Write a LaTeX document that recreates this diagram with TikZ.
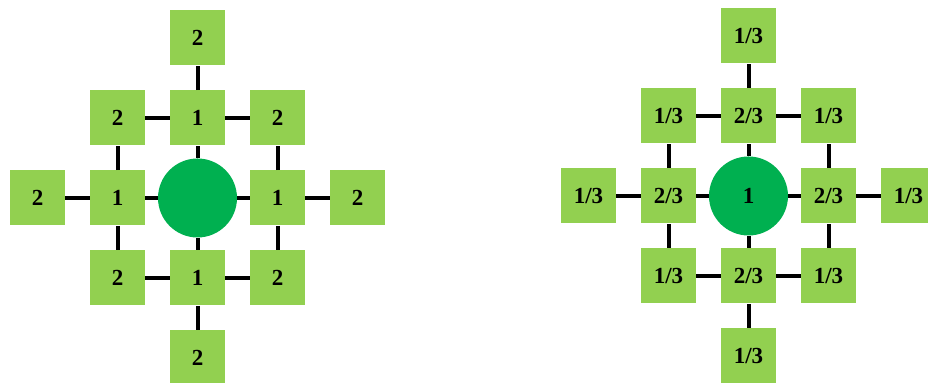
\documentclass[tikz,border=0pt]{standalone}
\usepackage{fontspec}
\setmainfont{Liberation Serif}
\usetikzlibrary{positioning}

\definecolor{cellgreen}{HTML}{92D050}
\definecolor{hubgreen}{HTML}{00B050}

\begin{document}
\begin{tikzpicture}[node distance=40pt,on grid,
	cell/.style={fill=cellgreen,minimum size=27.5pt,inner sep=0pt,font=\bfseries\fontsize{11.5}{13}\selectfont},
	hub/.style={circle,fill=hubgreen,minimum size=39.5pt,inner sep=0pt,font=\bfseries\fontsize{11.5}{13}\selectfont},
	link/.style={line width=2pt}]
					\useasboundingbox (0,0) rectangle (464pt,191.5pt);
					% left graph
					\node[hub] (a) at (98.75pt,92.5pt) {};
					\node[cell] (a_n) [above=of a] {1};
					\node[cell] (a_s) [below=of a] {1};
					\node[cell] (a_w) [left=of a] {1};
					\node[cell] (a_e) [right=of a] {1};
					\node[cell] (a_nn) [above=of a_n] {2};
					\node[cell] (a_nw) [left=of a_n] {2};
					\node[cell] (a_ne) [right=of a_n] {2};
					\node[cell] (a_ss) [below=of a_s] {2};
					\node[cell] (a_sw) [left=of a_s] {2};
					\node[cell] (a_se) [right=of a_s] {2};
					\node[cell] (a_ww) [left=of a_w] {2};
					\node[cell] (a_ee) [right=of a_e] {2};
					% right graph
					\node[hub] (b) at (374.25pt,93.5pt) {1};
					\node[cell] (b_n) [above=of b] {2/3};
					\node[cell] (b_s) [below=of b] {2/3};
					\node[cell] (b_w) [left=of b] {2/3};
					\node[cell] (b_e) [right=of b] {2/3};
					\node[cell] (b_nn) [above=of b_n] {1/3};
					\node[cell] (b_nw) [left=of b_n] {1/3};
					\node[cell] (b_ne) [right=of b_n] {1/3};
					\node[cell] (b_ss) [below=of b_s] {1/3};
					\node[cell] (b_sw) [left=of b_s] {1/3};
					\node[cell] (b_se) [right=of b_s] {1/3};
					\node[cell] (b_ww) [left=of b_w] {1/3};
					\node[cell] (b_ee) [right=of b_e] {1/3};
					\path[link]
					(a) edge (a_n) edge (a_s) edge (a_w) edge (a_e)
					(a_n) edge (a_nn) edge (a_nw) edge (a_ne)
					(a_s) edge (a_ss) edge (a_sw) edge (a_se)
					(a_w) edge (a_ww) edge (a_nw) edge (a_sw)
					(a_e) edge (a_ee) edge (a_ne) edge (a_se)
					(b) edge (b_n) edge (b_s) edge (b_w) edge (b_e)
					(b_n) edge (b_nn) edge (b_nw) edge (b_ne)
					(b_s) edge (b_ss) edge (b_sw) edge (b_se)
					(b_w) edge (b_ww) edge (b_nw) edge (b_sw)
					(b_e) edge (b_ee) edge (b_ne) edge (b_se);
				\end{tikzpicture}
\end{document}
